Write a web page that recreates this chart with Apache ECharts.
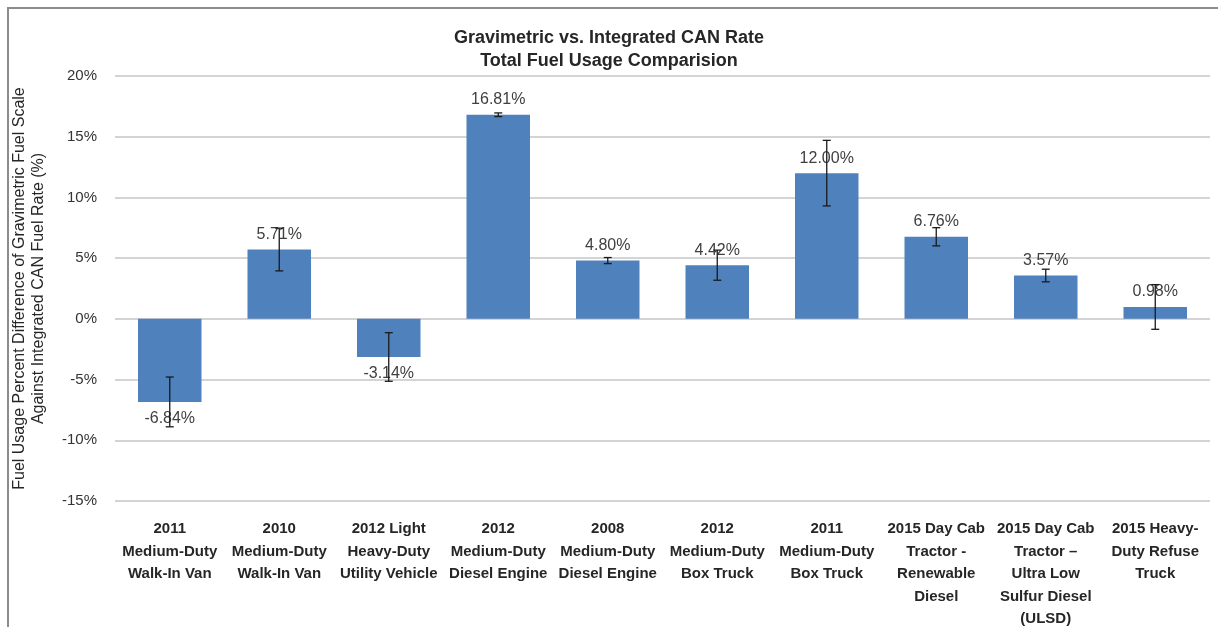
<!DOCTYPE html>
<html>
<head>
<meta charset="utf-8">
<script src="https://cdn.jsdelivr.net/npm/echarts@6/dist/echarts.min.js"></script>
<style>
html,body{margin:0;padding:0;background:#fff;}
#chart{width:1218px;height:627px;}
</style>
</head>
<body>
<div id="chart"></div>
<script>
const categories = [
  "2011\nMedium-Duty\nWalk-In Van",
  "2010\nMedium-Duty\nWalk-In Van",
  "2012 Light\nHeavy-Duty\nUtility Vehicle",
  "2012\nMedium-Duty\nDiesel Engine",
  "2008\nMedium-Duty\nDiesel Engine",
  "2012\nMedium-Duty\nBox Truck",
  "2011\nMedium-Duty\nBox Truck",
  "2015 Day Cab\nTractor -\nRenewable\nDiesel",
  "2015 Day Cab\nTractor \u2013\nUltra Low\nSulfur Diesel\n(ULSD)",
  "2015 Heavy-\nDuty Refuse\nTruck"
];
const values = [-6.84, 5.71, -3.14, 16.81, 4.80, 4.42, 12.00, 6.76, 3.57, 0.98];
const errors = [2.05, 1.76, 2.0, 0.15, 0.25, 1.24, 2.7, 0.75, 0.52, 1.84];
const yTicks = { min: -15, max: 20, interval: 5 };

const FONT = "'Liberation Sans', Arial, sans-serif";
const chart = echarts.init(document.getElementById('chart'));

const barData = values.map(v => ({
  value: v,
  label: { position: v < 0 ? 'bottom' : 'top', distance: v < 0 ? 9 : 7 }
}));
const errData = values.map((v, i) => [i, v - errors[i], v + errors[i]]);

chart.setOption({
  backgroundColor: '#fff',
  animation: false,
  title: {
    text: 'Gravimetric vs. Integrated CAN Rate\nTotal Fuel Usage Comparision',
    left: 'center',
    top: 22,
    textStyle: { fontFamily: FONT, fontSize: 18, fontWeight: 'bold', color: '#262626', lineHeight: 23 }
  },
  graphic: [{
    type: 'polyline',
    shape: { points: [[8, 640], [8, 8], [1230, 8]] },
    style: { stroke: '#8c8c8c', lineWidth: 2, fill: null },
    silent: true
  }],
  grid: { left: 115, right: 8, top: 76, bottom: 126, outerBoundsMode: 'none', containLabel: false },
  xAxis: {
    type: 'category',
    data: categories,
    position: 'bottom',
    axisLine: { show: false },
    axisTick: { show: false },
    axisLabel: {
      interval: 0,
      margin: 17,
      fontFamily: FONT, fontSize: 15, fontWeight: 'bold', color: '#262626', lineHeight: 22.5
    }
  },
  yAxis: {
    type: 'value',
    min: yTicks.min, max: yTicks.max, interval: yTicks.interval,
    name: 'Fuel Usage Percent Difference of Gravimetric Fuel Scale\nAgainst Integrated CAN Fuel Rate (%)',
    nameLocation: 'middle',
    nameGap: 67,
    nameTextStyle: { fontFamily: FONT, fontSize: 16, color: '#262626', lineHeight: 19 },
    axisLine: { show: false },
    axisTick: { show: false },
    axisLabel: {
      margin: 18,
      formatter: v => v + '%',
      fontFamily: FONT, fontSize: 15, color: '#333'
    },
    splitLine: { lineStyle: { color: '#d4d4d4', width: 2 } }
  },
  series: [
    {
      type: 'bar',
      data: barData,
      barWidth: '58%',
      itemStyle: { color: '#4f81bd' },
      label: {
        show: true,
        formatter: p => p.value.toFixed(2) + '%',
        fontFamily: FONT, fontSize: 16, color: '#404040'
      },
      z: 2
    },
    {
      type: 'custom',
      data: errData,
      z: 5,
      renderItem: function (params, api) {
        const x = api.value(0);
        const lo = api.coord([x, api.value(1)]);
        const hi = api.coord([x, api.value(2)]);
        const cw = 4;
        const st = { stroke: '#1a1a1a', lineWidth: 1.3 };
        return {
          type: 'group',
          children: [
            { type: 'line', shape: { x1: lo[0], y1: lo[1], x2: hi[0], y2: hi[1] }, style: st },
            { type: 'line', shape: { x1: lo[0] - cw, y1: lo[1], x2: lo[0] + cw, y2: lo[1] }, style: st },
            { type: 'line', shape: { x1: hi[0] - cw, y1: hi[1], x2: hi[0] + cw, y2: hi[1] }, style: st }
          ]
        };
      }
    }
  ]
});
</script>
</body>
</html>
